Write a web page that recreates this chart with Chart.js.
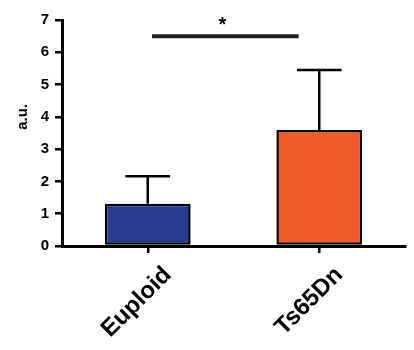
<!DOCTYPE html>
<html lang="en">
<head>
  <meta charset="UTF-8">
  <title>Euploid vs Ts65Dn</title>
  <script src="https://cdn.jsdelivr.net/npm/chart.js"></script>
  <style>
    body {
      margin: 0;
      padding: 0;
      background-color: #fff;
    }
  </style>
</head>
<body>
  <canvas id="barChart" width="414" height="350"></canvas>

  <script>
    // Data
    const categories = ['Euploid', 'Ts65Dn'];
    const means = [1.31, 3.59];
    const errors = [0.85, 1.86];
    const barColors = ['#283c8f', '#f15a2b'];
    const yTicks = [0, 1, 2, 3, 4, 5, 6, 7];

    const FONT = '"Liberation Sans", Arial, sans-serif';

    // Error bars drawn on top of each bar
    const errorBars = {
      id: 'errorBars',
      afterDatasetsDraw(chart) {
        const ctx = chart.ctx;
        const yScale = chart.scales.y;
        const meta = chart.getDatasetMeta(0);
        ctx.save();
        ctx.strokeStyle = '#000';
        ctx.lineWidth = 2.5;
        meta.data.forEach((bar, i) => {
          const top = yScale.getPixelForValue(means[i] + errors[i]);
          const half = bar.width * 0.26;
          ctx.beginPath();
          ctx.moveTo(bar.x, bar.y);
          ctx.lineTo(bar.x, top);
          ctx.moveTo(bar.x - half, top);
          ctx.lineTo(bar.x + half, top);
          ctx.stroke();
        });
        ctx.restore();
      }
    };

    // Significance bracket and the y axis title
    const extras = {
      id: 'extras',
      afterDraw(chart) {
        const ctx = chart.ctx;
        const x = chart.scales.x;
        const y = chart.scales.y;
        const step = x.getPixelForValue(1) - x.getPixelForValue(0);
        const x1 = x.getPixelForValue(0) + step * 0.025;
        const x2 = x.getPixelForValue(1) - step * 0.12;
        const yy = y.getPixelForValue(6.5);
        ctx.save();
        ctx.strokeStyle = '#231f20';
        ctx.lineWidth = 4;
        ctx.beginPath();
        ctx.moveTo(x1, yy);
        ctx.lineTo(x2, yy);
        ctx.stroke();

        ctx.fillStyle = '#000';
        ctx.font = 'bold 20px ' + FONT;
        ctx.textAlign = 'center';
        ctx.textBaseline = 'middle';
        ctx.fillText('*', (x1 + x2) / 2 - 3, yy - 11);

        ctx.translate(23, y.getPixelForValue(4));
        ctx.rotate(-Math.PI / 2);
        ctx.font = 'bold 15px ' + FONT;
        ctx.fillText('a.u.', 0, 0);
        ctx.restore();
      }
    };

    const ctx = document.getElementById('barChart').getContext('2d');
    const chart = new Chart(ctx, {
      type: 'bar',
      data: {
        labels: categories,
        datasets: [{
          data: means,
          backgroundColor: barColors,
          borderColor: '#000',
          borderWidth: 2.5,
          borderSkipped: false,
          categoryPercentage: 1,
          barPercentage: 0.5
        }]
      },
      options: {
        responsive: false,
        maintainAspectRatio: false,
        animation: false,
        layout: {
          padding: { top: 20, right: 9, left: 0, bottom: 0 }
        },
        plugins: {
          legend: { display: false },
          tooltip: { enabled: false }
        },
        scales: {
          x: {
            afterFit(scale) { scale.height = 104; },
            border: { display: true, color: '#000', width: 3 },
            grid: {
              offset: false,
              drawOnChartArea: false,
              drawTicks: true,
              tickLength: 7,
              color: '#000',
              lineWidth: 2.5
            },
            ticks: {
              color: '#000',
              minRotation: 45,
              maxRotation: 45,
              labelOffset: 20,
              padding: 8,
              font: { family: FONT, size: 24, weight: 'bold' }
            }
          },
          y: {
            min: 0,
            max: 7,
            afterFit(scale) { scale.width = 62; },
            afterBuildTicks(scale) {
              scale.ticks = yTicks.map(v => ({ value: v }));
            },
            border: { display: true, color: '#000', width: 3 },
            grid: {
              drawOnChartArea: false,
              drawTicks: true,
              tickLength: 7,
              color: '#000',
              lineWidth: 2.5
            },
            ticks: {
              color: '#000',
              padding: 6,
              font: { family: FONT, size: 15, weight: 'bold' }
            }
          }
        }
      },
      plugins: [errorBars, extras]
    });
  </script>
</body>
</html>
